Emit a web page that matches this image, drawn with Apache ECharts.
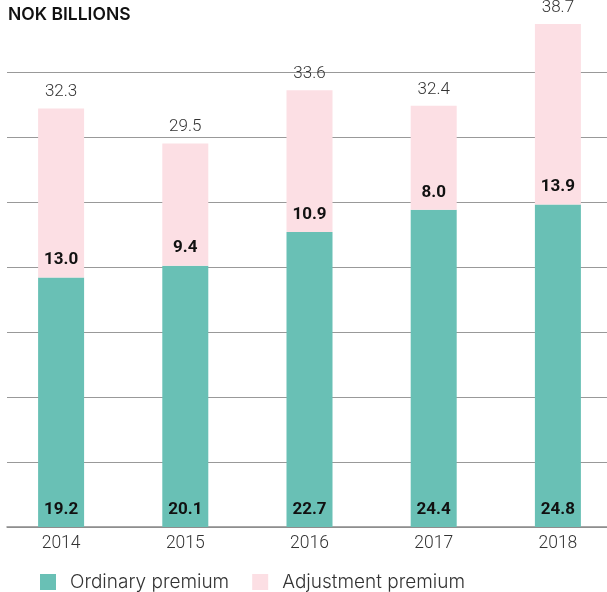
<!DOCTYPE html>
<html>
<head>
<meta charset="utf-8">
<script src="https://cdn.jsdelivr.net/npm/echarts@6/dist/echarts.min.js"></script>
<style>html,body{margin:0;padding:0;background:#fff}#c{width:607px;height:592px}</style>
</head>
<body>
<div id="c"></div>
<script>
const years = ['2014', '2015', '2016', '2017', '2018'];
const ordinary = [19.2, 20.1, 22.7, 24.4, 24.8];
const adjustment = [13.0, 9.4, 10.9, 8.0, 13.9];
const totals = ['32.3', '29.5', '33.6', '32.4', '38.7'];
const seriesNames = ['Ordinary premium', 'Adjustment premium'];
const yTicks = { min: 0, max: 35, interval: 5 };

const FONT = 'Roboto';
const chart = echarts.init(document.getElementById('c'), null, { renderer: 'canvas' });
chart.setOption({
  animation: false,
  textStyle: { fontFamily: FONT },
  title: {
    text: 'NOK BILLIONS', left: 3, top: 1,
    textStyle: { fontFamily: 'Inter', fontSize: 17.5, fontWeight: 600, color: '#111' }
  },
  legend: {
    data: seriesNames, left: 40, top: 572, itemWidth: 16, itemHeight: 16, itemGap: 23,
    icon: 'rect', padding: 0,
    textStyle: { fontFamily: 'Inter', fontSize: 19, fontWeight: 300, color: '#333', padding: [0, 0, 0, 9], lineHeight: 20 }
  },
  grid: [
    { left: 7, right: 0, top: 72, bottom: 65, outerBoundsMode: 'none' },
    { left: -1, width: 621, top: 72, bottom: 65, outerBoundsMode: 'none' }
  ],
  xAxis: [
    { type: 'category', gridIndex: 0, data: years, axisLine: { show: true, lineStyle: { color: '#8a8a8a', width: 1.5 } }, axisTick: { show: false }, axisLabel: { show: false } },
    { type: 'category', gridIndex: 1, data: years, axisLine: { show: false }, axisTick: { show: false },
      axisLabel: { fontFamily: FONT, fontSize: 17.5, fontWeight: 300, color: '#333', margin: 8 } }
  ],
  yAxis: [
    { type: 'value', gridIndex: 0, min: yTicks.min, max: yTicks.max, interval: yTicks.interval,
      axisLabel: { show: false }, axisLine: { show: false }, axisTick: { show: false },
      splitLine: { show: true, lineStyle: { color: '#999', width: 1.2 } } },
    { type: 'value', gridIndex: 1, min: yTicks.min, max: yTicks.max, interval: yTicks.interval,
      show: false, splitLine: { show: false } }
  ],
  series: [
    { name: seriesNames[0], type: 'bar', stack: 's', xAxisIndex: 1, yAxisIndex: 1, data: ordinary,
      barWidth: 46, clip: false, itemStyle: { color: '#69c0b5' },
      label: { show: true, position: 'insideBottom', distance: 9, fontFamily: FONT, fontSize: 17, fontWeight: 'bold', color: '#111',
        formatter: p => p.value.toFixed(1) } },
    { name: seriesNames[1], type: 'bar', stack: 's', xAxisIndex: 1, yAxisIndex: 1, data: adjustment,
      barWidth: 46, clip: false, itemStyle: { color: '#fcdfe4' },
      label: { show: true, position: 'insideBottom', distance: 9, fontFamily: FONT, fontSize: 17, fontWeight: 'bold', color: '#111',
        formatter: p => p.value.toFixed(1) } },
    { name: 'total', type: 'bar', stack: 's', xAxisIndex: 1, yAxisIndex: 1, data: years.map(() => 0),
      barWidth: 46, clip: false, itemStyle: { color: 'transparent' },
      label: { show: true, position: 'top', distance: 8, fontFamily: FONT, fontSize: 17, fontWeight: 300, color: '#333',
        formatter: p => totals[p.dataIndex] } }
  ]
});
</script>
</body>
</html>
